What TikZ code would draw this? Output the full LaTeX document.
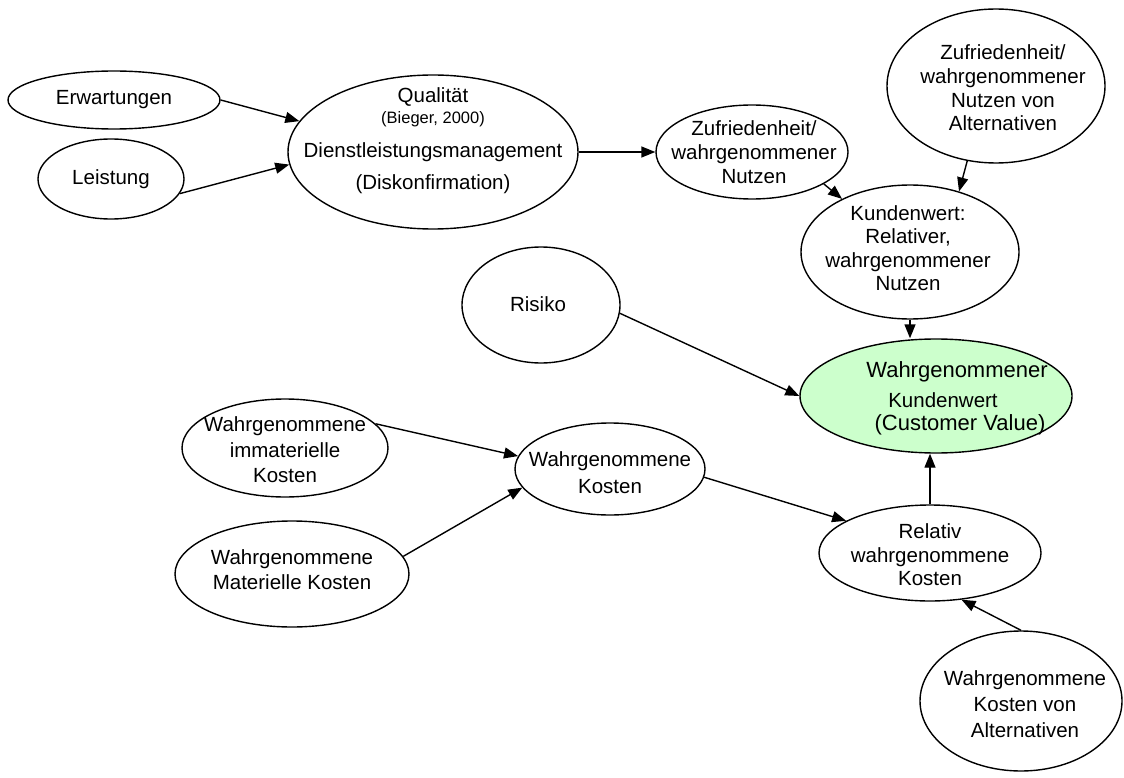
\documentclass[tikz,border=0pt]{standalone}
\usepackage{fontspec}
\setmainfont{Liberation Sans}
\usetikzlibrary{shapes.geometric,arrows.meta}
\definecolor{lightgreen}{HTML}{CCFFCC}
\begin{document}
\begin{tikzpicture}[x=1pt,y=-1pt,
  ell/.style={draw, ellipse, line width=1.4pt, inner sep=0pt},
  txt/.style={font=\fontsize{20.5}{24}\selectfont, align=center, inner sep=0pt},
  arr/.style={line width=1.4pt, -{Triangle[length=14pt,width=11pt]}}]
\useasboundingbox (0,0) rectangle (1124,778);

% ellipses
\node[ell, minimum width=212, minimum height=58] (erw) at (114,100) {};
\node[ell, minimum width=146, minimum height=80] (lei) at (111,179) {};
\node[ell, minimum width=290, minimum height=154] (qual) at (433,152) {};
\node[ell, minimum width=192, minimum height=94] (zuf) at (752,152) {};
\node[ell, minimum width=218, minimum height=154] (zufalt) at (996,86) {};
\node[ell, minimum width=218, minimum height=134] (kw) at (910,252) {};
\node[ell, minimum width=158, minimum height=116] (ris) at (541,305) {};
\node[ell, fill=lightgreen, minimum width=272, minimum height=114] (green) at (936,396) {};
\node[ell, minimum width=206, minimum height=98] (imm) at (285,448) {};
\node[ell, minimum width=190, minimum height=92] (kos) at (610,469) {};
\node[ell, minimum width=234, minimum height=106] (mat) at (292,574) {};
\node[ell, minimum width=222, minimum height=96] (rel) at (930,553) {};
\node[ell, minimum width=202, minimum height=140] (kalt) at (1021,701) {};

% texts
\node[txt] (terw) at (114,100) {Erwartungen};
\node[txt] (tlei) at (111,179) {Leistung};
\node[txt] (tqual1) at (433,97) {Qualität};
\node[txt, font=\fontsize{16.5}{19}\selectfont] (tqual2) at (433,119) {(Bieger, 2000)};
\node[txt] (tqual3) at (433,152) {Dienstleistungsmanagement};
\node[txt] (tqual4) at (433,184) {(Diskonfirmation)};
\node[txt] (tzuf) at (754,152) {Zufriedenheit/\\wahrgenommener\\Nutzen};
\node[txt, font=\fontsize{20.5}{23.7}\selectfont] (tzufalt) at (1003,88) {Zufriedenheit/\\wahrgenommener\\Nutzen von\\Alternativen};
\node[txt, font=\fontsize{20.5}{23.5}\selectfont] (tkw) at (908,248) {Kundenwert:\\Relativer,\\wahrgenommener\\Nutzen};
\node[txt] (tris) at (538,304) {Risiko};
\node[txt, font=\fontsize{22}{26}\selectfont] (tg1) at (957,372) {Wahrgenommener};
\node[txt, font=\fontsize{20.5}{24}\selectfont] (tg2) at (943,400) {Kundenwert};
\node[txt, font=\fontsize{22}{26}\selectfont] (tg3) at (960,425) {(Customer Value)};
\node[txt, font=\fontsize{20.5}{25.5}\selectfont] (timm) at (285,450) {Wahrgenommene\\immaterielle\\Kosten};
\node[txt, font=\fontsize{20.5}{27}\selectfont] (tkos) at (610,473) {Wahrgenommene\\Kosten};
\node[txt, font=\fontsize{20.5}{25}\selectfont] (tmat) at (292,570) {Wahrgenommene\\Materielle Kosten};
\node[txt, font=\fontsize{20.5}{23.5}\selectfont] (trel) at (930,555) {Relativ\\wahrgenommene\\Kosten};
\node[txt, font=\fontsize{20.5}{26}\selectfont] (tkalt) at (1025,704) {Wahrgenommene\\Kosten von\\Alternativen};

% connectors
\draw[arr] (erw.east) -- (qual.167);
\draw[arr] (lei.-12) -- (qual.185);
\draw[arr] (qual.east |- zuf.west) -- (zuf.west);
\draw[arr] (zuf.-24) -- (kw.142);
\draw[arr] (zufalt.-111) -- (kw.51);
\draw[arr] (kw.south) -- (kw.south |- green.north);
\draw[arr] (ris.-6) -- (green.west);
\draw[arr] (imm.15) -- (kos.172);
\draw[arr] (mat.9) -- (kos.192);
\draw[arr] (kos.-5) -- (rel.159);
\draw[arr] (rel.north) -- (rel.north |- green.south);
\draw[arr] (kalt.north) -- (rel.-56);
\end{tikzpicture}
\end{document}
